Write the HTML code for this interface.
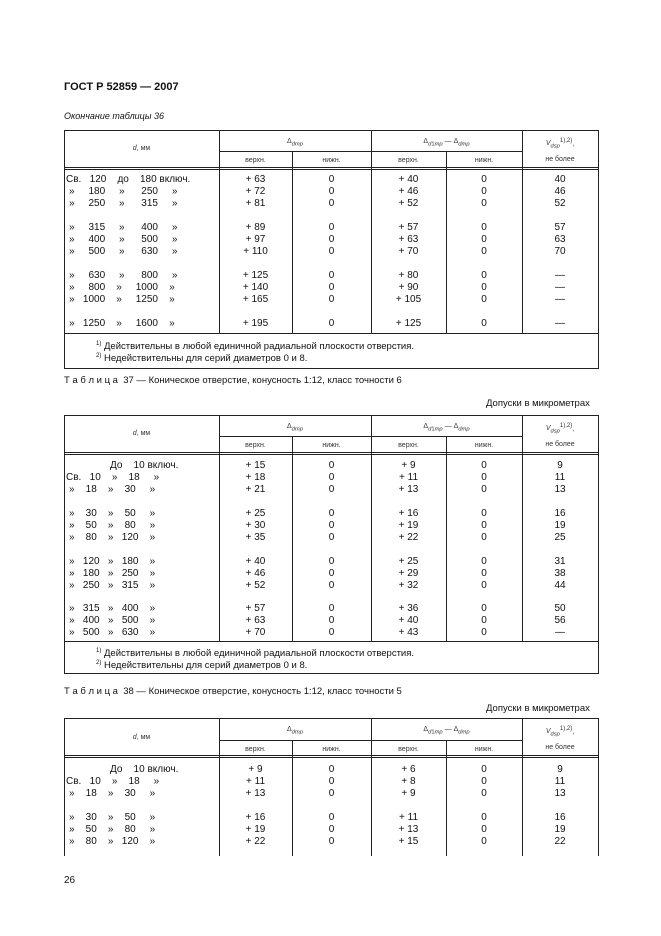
<!DOCTYPE html><html><head><meta charset="utf-8"><style>
body{margin:0;background:#fff;}
#p{position:relative;width:661px;height:936px;font-family:"Liberation Sans",Arial,sans-serif;color:#111;font-size:10px;overflow:hidden}
.a{position:absolute;white-space:nowrap;line-height:11px}
.h{position:absolute;background:#222;height:1px}
.v{position:absolute;background:#222;width:1px}
.c{position:absolute;text-align:center;white-space:nowrap;line-height:11px}
.s{font-size:7px;color:#333}
sup{font-size:6px}
</style></head><body><div id="p">
<div class="a" style="left:64px;top:82px;font-weight:bold;font-size:11px">ГОСТ Р 52859 — 2007</div>
<div class="a" style="left:64px;top:111px;font-style:italic;font-size:9px">Окончание таблицы 36</div>

<!-- Table 36 -->
<div class="h" style="left:64px;top:130px;width:535px"></div>
<div class="h" style="left:219px;top:151px;width:303px"></div>
<div class="h" style="left:64px;top:167px;width:535px"></div>
<div class="h" style="left:64px;top:169px;width:535px"></div>
<div class="h" style="left:64px;top:333px;width:535px"></div>
<div class="h" style="left:64px;top:368px;width:535px"></div>
<div class="v" style="left:64px;top:130px;height:238px"></div>
<div class="v" style="left:598px;top:130px;height:238px"></div>
<div class="v" style="left:219px;top:130px;height:203px"></div>
<div class="v" style="left:371px;top:130px;height:203px"></div>
<div class="v" style="left:522px;top:130px;height:203px"></div>
<div class="v" style="left:292px;top:151px;height:182px"></div>
<div class="v" style="left:446px;top:151px;height:182px"></div>
<div class="c s" style="left:64px;width:155px;top:143px"><i>d</i>, мм</div>
<div class="c s" style="left:219px;width:152px;top:136px">Δ<sub><i>dmp</i></sub></div>
<div class="c s" style="left:371px;width:151px;top:136px">Δ<sub><i>d</i>1<i>mp</i></sub> — Δ<sub><i>dmp</i></sub></div>
<div class="c s" style="left:522px;width:76px;top:136px"><i>V<sub>dsp</sub></i><sup>1),2)</sup>,</div>
<div class="c s" style="left:522px;width:76px;top:154px">не более</div>
<div class="c s" style="left:219px;width:73px;top:155px">верхн.</div>
<div class="c s" style="left:292px;width:79px;top:155px">нижн.</div>
<div class="c s" style="left:371px;width:75px;top:155px">верхн.</div>
<div class="c s" style="left:446px;width:76px;top:155px">нижн.</div>

<div class="a" style="left:66px;top:174px">Св.&nbsp;&nbsp;&nbsp;120&nbsp;&nbsp;&nbsp;&nbsp;до&nbsp;&nbsp;&nbsp;&nbsp;180 включ.</div>
<div class="a" style="left:69px;top:186px">»&nbsp;&nbsp;&nbsp;&nbsp;&nbsp;180&nbsp;&nbsp;&nbsp;&nbsp;&nbsp;»&nbsp;&nbsp;&nbsp;&nbsp;&nbsp;&nbsp;250&nbsp;&nbsp;&nbsp;&nbsp;&nbsp;»</div>
<div class="a" style="left:69px;top:198px">»&nbsp;&nbsp;&nbsp;&nbsp;&nbsp;250&nbsp;&nbsp;&nbsp;&nbsp;&nbsp;»&nbsp;&nbsp;&nbsp;&nbsp;&nbsp;&nbsp;315&nbsp;&nbsp;&nbsp;&nbsp;&nbsp;»</div>
<div class="a" style="left:69px;top:222px">»&nbsp;&nbsp;&nbsp;&nbsp;&nbsp;315&nbsp;&nbsp;&nbsp;&nbsp;&nbsp;»&nbsp;&nbsp;&nbsp;&nbsp;&nbsp;&nbsp;400&nbsp;&nbsp;&nbsp;&nbsp;&nbsp;»</div>
<div class="a" style="left:69px;top:234px">»&nbsp;&nbsp;&nbsp;&nbsp;&nbsp;400&nbsp;&nbsp;&nbsp;&nbsp;&nbsp;»&nbsp;&nbsp;&nbsp;&nbsp;&nbsp;&nbsp;500&nbsp;&nbsp;&nbsp;&nbsp;&nbsp;»</div>
<div class="a" style="left:69px;top:246px">»&nbsp;&nbsp;&nbsp;&nbsp;&nbsp;500&nbsp;&nbsp;&nbsp;&nbsp;&nbsp;»&nbsp;&nbsp;&nbsp;&nbsp;&nbsp;&nbsp;630&nbsp;&nbsp;&nbsp;&nbsp;&nbsp;»</div>
<div class="a" style="left:69px;top:270px">»&nbsp;&nbsp;&nbsp;&nbsp;&nbsp;630&nbsp;&nbsp;&nbsp;&nbsp;&nbsp;»&nbsp;&nbsp;&nbsp;&nbsp;&nbsp;&nbsp;800&nbsp;&nbsp;&nbsp;&nbsp;&nbsp;»</div>
<div class="a" style="left:69px;top:282px">»&nbsp;&nbsp;&nbsp;&nbsp;&nbsp;800&nbsp;&nbsp;&nbsp;&nbsp;»&nbsp;&nbsp;&nbsp;&nbsp;&nbsp;1000&nbsp;&nbsp;&nbsp;&nbsp;»</div>
<div class="a" style="left:69px;top:294px">»&nbsp;&nbsp;&nbsp;1000&nbsp;&nbsp;&nbsp;&nbsp;»&nbsp;&nbsp;&nbsp;&nbsp;&nbsp;1250&nbsp;&nbsp;&nbsp;&nbsp;»</div>
<div class="a" style="left:69px;top:318px">»&nbsp;&nbsp;&nbsp;1250&nbsp;&nbsp;&nbsp;&nbsp;»&nbsp;&nbsp;&nbsp;&nbsp;&nbsp;1600&nbsp;&nbsp;&nbsp;&nbsp;»</div>

<div class="c" style="left:219px;width:73px;top:174px;line-height:12px">+ 63<br>+ 72<br>+ 81</div>
<div class="c" style="left:219px;width:73px;top:222px;line-height:12px">+ 89<br>+ 97<br>+ 110</div>
<div class="c" style="left:219px;width:73px;top:270px;line-height:12px">+ 125<br>+ 140<br>+ 165</div>
<div class="c" style="left:219px;width:73px;top:318px">+ 195</div>
<div class="c" style="left:292px;width:79px;top:174px;line-height:12px">0<br>0<br>0<br><br>0<br>0<br>0<br><br>0<br>0<br>0<br><br>0</div>
<div class="c" style="left:371px;width:75px;top:174px;line-height:12px">+ 40<br>+ 46<br>+ 52<br><br>+ 57<br>+ 63<br>+ 70<br><br>+ 80<br>+ 90<br>+ 105<br><br>+ 125</div>
<div class="c" style="left:446px;width:76px;top:174px;line-height:12px">0<br>0<br>0<br><br>0<br>0<br>0<br><br>0<br>0<br>0<br><br>0</div>
<div class="c" style="left:522px;width:76px;top:174px;line-height:12px">40<br>46<br>52<br><br>57<br>63<br>70<br><br>—<br>—<br>—<br><br>—</div>
<div class="a" style="left:96px;top:339px;font-size:9.5px"><sup>1)</sup> Действительны в любой единичной радиальной плоскости отверстия.</div>
<div class="a" style="left:96px;top:351px;font-size:9.5px"><sup>2)</sup> Недействительны для серий диаметров 0 и 8.</div>

<!-- Table 37 -->
<div class="a" style="left:64px;top:375px;font-size:9.5px">Т а б л и ц а&nbsp; 37 — Коническое отверстие, конусность 1:12, класс точности 6</div>
<div class="a" style="left:486px;top:398px;font-size:9.5px">Допуски в микрометрах</div>
<div class="h" style="left:64px;top:415px;width:535px"></div>
<div class="h" style="left:219px;top:436px;width:303px"></div>
<div class="h" style="left:64px;top:452px;width:535px"></div>
<div class="h" style="left:64px;top:454px;width:535px"></div>
<div class="h" style="left:64px;top:641px;width:535px"></div>
<div class="h" style="left:64px;top:673px;width:535px"></div>
<div class="v" style="left:64px;top:415px;height:258px"></div>
<div class="v" style="left:598px;top:415px;height:258px"></div>
<div class="v" style="left:219px;top:415px;height:226px"></div>
<div class="v" style="left:371px;top:415px;height:226px"></div>
<div class="v" style="left:522px;top:415px;height:226px"></div>
<div class="v" style="left:292px;top:436px;height:205px"></div>
<div class="v" style="left:446px;top:436px;height:205px"></div>
<div class="c s" style="left:64px;width:155px;top:428px"><i>d</i>, мм</div>
<div class="c s" style="left:219px;width:152px;top:421px">Δ<sub><i>dmp</i></sub></div>
<div class="c s" style="left:371px;width:151px;top:421px">Δ<sub><i>d</i>1<i>mp</i></sub> — Δ<sub><i>dmp</i></sub></div>
<div class="c s" style="left:522px;width:76px;top:421px"><i>V<sub>dsp</sub></i><sup>1),2)</sup>,</div>
<div class="c s" style="left:522px;width:76px;top:439px">не более</div>
<div class="c s" style="left:219px;width:73px;top:440px">верхн.</div>
<div class="c s" style="left:292px;width:79px;top:440px">нижн.</div>
<div class="c s" style="left:371px;width:75px;top:440px">верхн.</div>
<div class="c s" style="left:446px;width:76px;top:440px">нижн.</div>
<div class="a" style="left:110px;top:460px">До&nbsp;&nbsp;&nbsp;&nbsp;10 включ.</div>
<div class="a" style="left:66px;top:472px">Св.&nbsp;&nbsp;&nbsp;10&nbsp;&nbsp;&nbsp;&nbsp;»&nbsp;&nbsp;&nbsp;&nbsp;18&nbsp;&nbsp;&nbsp;&nbsp;&nbsp;»</div>
<div class="a" style="left:69px;top:484px">»&nbsp;&nbsp;&nbsp;&nbsp;18&nbsp;&nbsp;&nbsp;&nbsp;»&nbsp;&nbsp;&nbsp;&nbsp;30&nbsp;&nbsp;&nbsp;&nbsp;&nbsp;»</div>
<div class="a" style="left:69px;top:508px">»&nbsp;&nbsp;&nbsp;&nbsp;30&nbsp;&nbsp;&nbsp;&nbsp;»&nbsp;&nbsp;&nbsp;&nbsp;50&nbsp;&nbsp;&nbsp;&nbsp;&nbsp;»</div>
<div class="a" style="left:69px;top:520px">»&nbsp;&nbsp;&nbsp;&nbsp;50&nbsp;&nbsp;&nbsp;&nbsp;»&nbsp;&nbsp;&nbsp;&nbsp;80&nbsp;&nbsp;&nbsp;&nbsp;&nbsp;»</div>
<div class="a" style="left:69px;top:532px">»&nbsp;&nbsp;&nbsp;&nbsp;80&nbsp;&nbsp;&nbsp;&nbsp;»&nbsp;&nbsp;&nbsp;120&nbsp;&nbsp;&nbsp;&nbsp;»</div>
<div class="a" style="left:69px;top:556px">»&nbsp;&nbsp;&nbsp;120&nbsp;&nbsp;&nbsp;»&nbsp;&nbsp;&nbsp;180&nbsp;&nbsp;&nbsp;&nbsp;»</div>
<div class="a" style="left:69px;top:568px">»&nbsp;&nbsp;&nbsp;180&nbsp;&nbsp;&nbsp;»&nbsp;&nbsp;&nbsp;250&nbsp;&nbsp;&nbsp;&nbsp;»</div>
<div class="a" style="left:69px;top:580px">»&nbsp;&nbsp;&nbsp;250&nbsp;&nbsp;&nbsp;»&nbsp;&nbsp;&nbsp;315&nbsp;&nbsp;&nbsp;&nbsp;»</div>
<div class="a" style="left:69px;top:603px">»&nbsp;&nbsp;&nbsp;315&nbsp;&nbsp;&nbsp;»&nbsp;&nbsp;&nbsp;400&nbsp;&nbsp;&nbsp;&nbsp;»</div>
<div class="a" style="left:69px;top:615px">»&nbsp;&nbsp;&nbsp;400&nbsp;&nbsp;&nbsp;»&nbsp;&nbsp;&nbsp;500&nbsp;&nbsp;&nbsp;&nbsp;»</div>
<div class="a" style="left:69px;top:627px">»&nbsp;&nbsp;&nbsp;500&nbsp;&nbsp;&nbsp;»&nbsp;&nbsp;&nbsp;630&nbsp;&nbsp;&nbsp;&nbsp;»</div>
<div class="c" style="left:219px;width:73px;top:460px;line-height:12px">+ 15<br>+ 18<br>+ 21<br><br>+ 25<br>+ 30<br>+ 35<br><br>+ 40<br>+ 46<br>+ 52</div>
<div class="c" style="left:219px;width:73px;top:603px;line-height:12px">+ 57<br>+ 63<br>+ 70</div>
<div class="c" style="left:292px;width:79px;top:460px;line-height:12px">0<br>0<br>0<br><br>0<br>0<br>0<br><br>0<br>0<br>0</div>
<div class="c" style="left:292px;width:79px;top:603px;line-height:12px">0<br>0<br>0</div>
<div class="c" style="left:371px;width:75px;top:460px;line-height:12px">+ 9<br>+ 11<br>+ 13<br><br>+ 16<br>+ 19<br>+ 22<br><br>+ 25<br>+ 29<br>+ 32</div>
<div class="c" style="left:371px;width:75px;top:603px;line-height:12px">+ 36<br>+ 40<br>+ 43</div>
<div class="c" style="left:446px;width:76px;top:460px;line-height:12px">0<br>0<br>0<br><br>0<br>0<br>0<br><br>0<br>0<br>0</div>
<div class="c" style="left:446px;width:76px;top:603px;line-height:12px">0<br>0<br>0</div>
<div class="c" style="left:522px;width:76px;top:460px;line-height:12px">9<br>11<br>13<br><br>16<br>19<br>25<br><br>31<br>38<br>44</div>
<div class="c" style="left:522px;width:76px;top:603px;line-height:12px">50<br>56<br>—</div>
<div class="a" style="left:96px;top:646px;font-size:9.5px"><sup>1)</sup> Действительны в любой единичной радиальной плоскости отверстия.</div>
<div class="a" style="left:96px;top:658px;font-size:9.5px"><sup>2)</sup> Недействительны для серий диаметров 0 и 8.</div>

<!-- Table 38 -->
<div class="a" style="left:64px;top:686px;font-size:9.5px">Т а б л и ц а&nbsp; 38 — Коническое отверстие, конусность 1:12, класс точности 5</div>
<div class="a" style="left:486px;top:703px;font-size:9.5px">Допуски в микрометрах</div>
<div class="h" style="left:64px;top:718px;width:535px"></div>
<div class="h" style="left:219px;top:740px;width:303px"></div>
<div class="h" style="left:64px;top:755px;width:535px"></div>
<div class="h" style="left:64px;top:757px;width:535px"></div>
<div class="v" style="left:64px;top:718px;height:138px"></div>
<div class="v" style="left:598px;top:718px;height:138px"></div>
<div class="v" style="left:219px;top:718px;height:138px"></div>
<div class="v" style="left:371px;top:718px;height:138px"></div>
<div class="v" style="left:522px;top:718px;height:138px"></div>
<div class="v" style="left:292px;top:740px;height:116px"></div>
<div class="v" style="left:446px;top:740px;height:116px"></div>
<div class="c s" style="left:64px;width:155px;top:732px"><i>d</i>, мм</div>
<div class="c s" style="left:219px;width:152px;top:724px">Δ<sub><i>dmp</i></sub></div>
<div class="c s" style="left:371px;width:151px;top:724px">Δ<sub><i>d</i>1<i>mp</i></sub> — Δ<sub><i>dmp</i></sub></div>
<div class="c s" style="left:522px;width:76px;top:724px"><i>V<sub>dsp</sub></i><sup>1),2)</sup>,</div>
<div class="c s" style="left:522px;width:76px;top:742px">не более</div>
<div class="c s" style="left:219px;width:73px;top:744px">верхн.</div>
<div class="c s" style="left:292px;width:79px;top:744px">нижн.</div>
<div class="c s" style="left:371px;width:75px;top:744px">верхн.</div>
<div class="c s" style="left:446px;width:76px;top:744px">нижн.</div>
<div class="a" style="left:110px;top:764px">До&nbsp;&nbsp;&nbsp;&nbsp;10 включ.</div>
<div class="a" style="left:66px;top:776px">Св.&nbsp;&nbsp;&nbsp;10&nbsp;&nbsp;&nbsp;&nbsp;»&nbsp;&nbsp;&nbsp;&nbsp;18&nbsp;&nbsp;&nbsp;&nbsp;&nbsp;»</div>
<div class="a" style="left:69px;top:788px">»&nbsp;&nbsp;&nbsp;&nbsp;18&nbsp;&nbsp;&nbsp;&nbsp;»&nbsp;&nbsp;&nbsp;&nbsp;30&nbsp;&nbsp;&nbsp;&nbsp;&nbsp;»</div>
<div class="a" style="left:69px;top:812px">»&nbsp;&nbsp;&nbsp;&nbsp;30&nbsp;&nbsp;&nbsp;&nbsp;»&nbsp;&nbsp;&nbsp;&nbsp;50&nbsp;&nbsp;&nbsp;&nbsp;&nbsp;»</div>
<div class="a" style="left:69px;top:824px">»&nbsp;&nbsp;&nbsp;&nbsp;50&nbsp;&nbsp;&nbsp;&nbsp;»&nbsp;&nbsp;&nbsp;&nbsp;80&nbsp;&nbsp;&nbsp;&nbsp;&nbsp;»</div>
<div class="a" style="left:69px;top:836px">»&nbsp;&nbsp;&nbsp;&nbsp;80&nbsp;&nbsp;&nbsp;&nbsp;»&nbsp;&nbsp;&nbsp;120&nbsp;&nbsp;&nbsp;&nbsp;»</div>
<div class="c" style="left:219px;width:73px;top:764px;line-height:12px">+ 9<br>+ 11<br>+ 13<br><br>+ 16<br>+ 19<br>+ 22</div>
<div class="c" style="left:292px;width:79px;top:764px;line-height:12px">0<br>0<br>0<br><br>0<br>0<br>0</div>
<div class="c" style="left:371px;width:75px;top:764px;line-height:12px">+ 6<br>+ 8<br>+ 9<br><br>+ 11<br>+ 13<br>+ 15</div>
<div class="c" style="left:446px;width:76px;top:764px;line-height:12px">0<br>0<br>0<br><br>0<br>0<br>0</div>
<div class="c" style="left:522px;width:76px;top:764px;line-height:12px">9<br>11<br>13<br><br>16<br>19<br>22</div>
<div class="a" style="left:64px;top:875px;font-size:10px">26</div>
</div></body></html>
